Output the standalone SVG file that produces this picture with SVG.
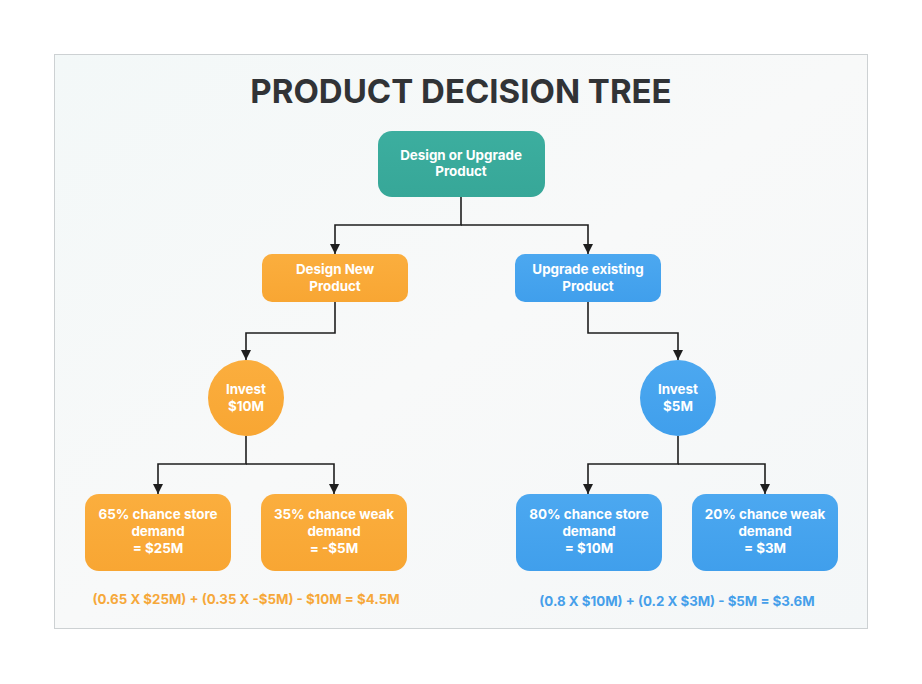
<svg xmlns="http://www.w3.org/2000/svg" width="922" height="684" viewBox="0 0 922 684">
  <defs>
    <linearGradient id="bg" x1="0" y1="0" x2="1" y2="1">
      <stop offset="0" stop-color="#F3F8F8"/>
      <stop offset="0.5" stop-color="#F8F9F9"/>
      <stop offset="1" stop-color="#F4F7F8"/>
    </linearGradient>
    <linearGradient id="org" x1="0" y1="0" x2="0" y2="1">
      <stop offset="0" stop-color="#FBAE3E"/>
      <stop offset="1" stop-color="#F8A633"/>
    </linearGradient>
    <linearGradient id="blu" x1="0" y1="0" x2="0" y2="1">
      <stop offset="0" stop-color="#4CA8F0"/>
      <stop offset="1" stop-color="#409FEC"/>
    </linearGradient>
    <linearGradient id="tea" x1="0" y1="0" x2="0" y2="1">
      <stop offset="0" stop-color="#3CAE9F"/>
      <stop offset="1" stop-color="#37A798"/>
    </linearGradient>
    <marker id="arr" viewBox="0 0 10 10" refX="10" refY="5" markerWidth="10" markerHeight="10" markerUnits="userSpaceOnUse" orient="auto">
      <path d="M0,0 L10,5 L0,10 Z" fill="#1E1E1E"/>
    </marker>
  </defs>
  <style>
    .t{font-family:Inter,"Liberation Sans",Arial,sans-serif;font-weight:700;text-anchor:middle}
    .w{fill:#FFFFFF;font-size:13.4px}
    .c{fill:none;stroke:#1E1E1E;stroke-width:1.6}
    .f{font-size:13.3px}
  </style>
  <rect x="0" y="0" width="922" height="684" fill="#FFFFFF"/>
  <rect x="54.5" y="54.5" width="813" height="574" fill="url(#bg)" stroke="#CDD1D3" stroke-width="1"/>
  <text class="t" x="461" y="103" font-size="33" fill="#313336">PRODUCT DECISION TREE</text>

  <g id="connectors">
    <path class="c" d="M461,197 V225 H335 V254" marker-end="url(#arr)"/>
    <path class="c" d="M461,225 H588 V254" marker-end="url(#arr)"/>
    <path class="c" d="M335,302 V333 H246 V360" marker-end="url(#arr)"/>
    <path class="c" d="M588,302 V333 H678 V360" marker-end="url(#arr)"/>
    <path class="c" d="M246,436 V464 H158 V494" marker-end="url(#arr)"/>
    <path class="c" d="M246,464 H334 V494" marker-end="url(#arr)"/>
    <path class="c" d="M678,436 V464 H588 V494" marker-end="url(#arr)"/>
    <path class="c" d="M678,464 H765 V494" marker-end="url(#arr)"/>
  </g>

  <g id="root">
    <rect x="378" y="131" width="167" height="66" rx="14" fill="url(#tea)"/>
    <text class="t w" x="461" y="160">Design or Upgrade</text>
    <text class="t w" x="461" y="176">Product</text>
  </g>
  <g id="design-new">
    <rect x="262" y="254" width="146" height="48" rx="10" fill="url(#org)"/>
    <text class="t w" x="335" y="274">Design New</text>
    <text class="t w" x="335" y="291">Product</text>
  </g>
  <g id="upgrade-existing">
    <rect x="515" y="254" width="146" height="48" rx="10" fill="url(#blu)"/>
    <text class="t w" x="588" y="274">Upgrade existing</text>
    <text class="t w" x="588" y="291">Product</text>
  </g>
  <g id="invest-10m">
    <circle cx="246" cy="398" r="38" fill="url(#org)"/>
    <text class="t w" x="246" y="394">Invest</text>
    <text class="t w" x="246" y="411">$10M</text>
  </g>
  <g id="invest-5m">
    <circle cx="678" cy="398" r="38" fill="url(#blu)"/>
    <text class="t w" x="678" y="394">Invest</text>
    <text class="t w" x="678" y="411">$5M</text>
  </g>
  <g id="leaf-65">
    <rect x="85" y="494" width="146" height="77" rx="14" fill="url(#org)"/>
    <text class="t w" x="158" y="519">65% chance store</text>
    <text class="t w" x="158" y="536">demand</text>
    <text class="t w" x="158" y="553">= $25M</text>
  </g>
  <g id="leaf-35">
    <rect x="261" y="494" width="146" height="77" rx="14" fill="url(#org)"/>
    <text class="t w" x="334" y="519">35% chance weak</text>
    <text class="t w" x="334" y="536">demand</text>
    <text class="t w" x="334" y="553">= -$5M</text>
  </g>
  <g id="leaf-80">
    <rect x="516" y="494" width="146" height="77" rx="14" fill="url(#blu)"/>
    <text class="t w" x="589" y="519">80% chance store</text>
    <text class="t w" x="589" y="536">demand</text>
    <text class="t w" x="589" y="553">= $10M</text>
  </g>
  <g id="leaf-20">
    <rect x="692" y="494" width="146" height="77" rx="14" fill="url(#blu)"/>
    <text class="t w" x="765" y="519">20% chance weak</text>
    <text class="t w" x="765" y="536">demand</text>
    <text class="t w" x="765" y="553">= $3M</text>
  </g>
  <g id="formula-left">
    <text class="t f" x="246" y="604" fill="#F6A83A">(0.65 X $25M) + (0.35 X -$5M) - $10M = $4.5M</text>
  </g>
  <g id="formula-right">
    <text class="t f" x="677" y="606" fill="#469FEA">(0.8 X $10M) + (0.2 X $3M) - $5M = $3.6M</text>
  </g>
</svg>
